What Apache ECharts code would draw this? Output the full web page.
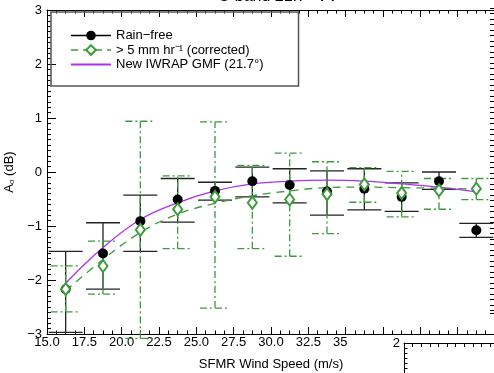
<!DOCTYPE html>
<html><head><meta charset="utf-8">
<script src="https://cdn.jsdelivr.net/npm/echarts@6/dist/echarts.min.js"></script>
<style>html,body{margin:0;padding:0;background:#fff}#c{width:494px;height:373px}</style>
</head><body><div id="c"></div>
<script>
// ---- data ----
const windSpeed     = [16.25, 18.75, 21.25, 23.75, 26.25, 28.75, 31.25, 33.75, 36.25, 38.75, 41.25, 43.75];
const rainFree      = [-2.17, -1.51, -0.91, -0.51, -0.35, -0.17, -0.24, -0.36, -0.31, -0.46, -0.17, -1.08];
const rainFreeLow   = [-2.97, -2.17, -1.47, -0.93, -0.52, -0.46, -0.57, -0.80, -0.70, -0.73, -0.32, -1.21];
const rainFreeHigh  = [-1.47, -0.94, -0.43, -0.12, -0.19,  0.09,  0.06,  0.02,  0.06, -0.20,  0.00, -0.95];
const rain5         = [-2.17, -1.74, -1.07, -0.69, -0.46, -0.57, -0.51, -0.41, -0.23, -0.39, -0.34, -0.31];
const rain5Low      = [-2.59, -2.26, -3.08, -1.42, -2.52, -1.42, -1.56, -1.14, -0.56, -0.83, -0.69, -0.51];
const rain5High     = [-1.74, -1.28,  0.94, -0.07,  0.93,  0.12,  0.35,  0.19,  0.08,  0.01, -0.12, -0.12];
const rain5Fit      = [-2.20, -1.62, -1.12, -0.78, -0.58, -0.44, -0.35, -0.29, -0.28, -0.29, -0.30, -0.32];
const gmfCurve      = [-2.06, -1.40, -0.88, -0.57, -0.35, -0.22, -0.17, -0.15, -0.17, -0.22, -0.28, -0.37];
const xTicks = {min: 15, max: 45, step: 2.5};
const yTicks = {min: -3, max: 3, step: 1};
const titleText = 'C-band 21.7° VV';
const nameRain = 'Rain\u2212free';
const nameRain5 = '> 5 mm hr\u207B\u00B9 (corrected)';
const nameGmf = 'New IWRAP GMF (21.7°)';

const FONT = 'Liberation Sans, Arial, Helvetica, sans-serif';
const GREEN = '#3c9b3c';
const PURPLE = '#aa33ee';

const zip = (xs, ys) => xs.map((x, i) => [x, ys[i]]);
const zip3 = (xs, a, b) => xs.map((x, i) => [x, a[i], b[i]]);

function errBar(capHalf, color, dash, width) {
  return function (params, api) {
    const x = api.value(0), lo = api.value(1), hi = api.value(2);
    const pLo = api.coord([x, lo]), pHi = api.coord([x, hi]);
    const st = {stroke: color, lineWidth: width, lineDash: dash, fill: null};
    return {type: 'group', children: [
      {type: 'line', shape: {x1: pLo[0], y1: pLo[1], x2: pHi[0], y2: pHi[1]}, style: st},
      {type: 'line', shape: {x1: pLo[0] - capHalf, y1: pLo[1], x2: pLo[0] + capHalf, y2: pLo[1]}, style: st},
      {type: 'line', shape: {x1: pHi[0] - capHalf, y1: pHi[1], x2: pHi[0] + capHalf, y2: pHi[1]}, style: st}
    ]};
  };
}

const chart = echarts.init(document.getElementById('c'), null, {renderer: 'canvas'});
const axLine = {show: true, onZero: false, lineStyle: {color: '#000', width: 1}};
chart.setOption({
  animation: false,
  backgroundColor: '#fff',
  textStyle: {fontFamily: FONT},
  title: {text: titleText, left: 273, top: -16, textAlign: 'center',
          textStyle: {fontSize: 16, fontWeight: 'normal', color: '#000', fontFamily: FONT}},
  legend: {
    orient: 'vertical', left: 51, top: 12, itemWidth: 40, itemHeight: 12, itemGap: 1.5,
    itemTextGap: 18, padding: [17, 35, 15, 19], borderColor: '#555', borderWidth: 1.5,
    textStyle: {fontSize: 13, color: '#000', fontFamily: FONT},
    data: [
      {name: nameRain, lineStyle: {opacity: 1, color: '#000', width: 1.5, type: 'solid'}},
      {name: nameRain5, lineStyle: {opacity: 1, color: GREEN, width: 1.5, type: [7, 5]}},
      {name: nameGmf, itemStyle: {opacity: 0}}
    ]
  },
  grid: [
    {left: 47, top: 10, width: 448, height: 324, outerBoundsMode: 'none', containLabel: false},
    {left: 490, top: 8, width: 20, height: 305, outerBoundsMode: 'none', containLabel: false},
    {left: 404, top: 343, width: 200, height: 100, outerBoundsMode: 'none', containLabel: false}
  ],
  graphic: [
    {type: 'rect', zlevel: 1, z: 1, shape: {x: 347, y: 335, width: 147, height: 38}, style: {fill: '#fff'}}
  ],
  xAxis: [
    {gridIndex: 0, type: 'value', position: 'bottom', min: xTicks.min, max: xTicks.max, interval: xTicks.step,
     axisLine: axLine, splitLine: {show: false},
     axisTick: {inside: true, length: 7, lineStyle: {color: '#000'}},
     minorTick: {show: true, splitNumber: 4, length: 3.5, lineStyle: {color: '#000'}},
     axisLabel: {fontSize: 13, color: '#000', margin: 2, fontFamily: FONT, formatter: v => v.toFixed(1)},
     name: 'SFMR Wind Speed (m/s)', nameLocation: 'middle', nameGap: 24,
     nameTextStyle: {fontSize: 13, color: '#000', fontFamily: FONT}},
    {gridIndex: 0, type: 'value', position: 'top', min: xTicks.min, max: xTicks.max, interval: xTicks.step,
     axisLine: axLine, splitLine: {show: false}, axisLabel: {show: false},
     axisTick: {inside: true, length: 7, lineStyle: {color: '#000'}},
     minorTick: {show: true, splitNumber: 4, length: 3.5, lineStyle: {color: '#000'}}},
    {gridIndex: 1, type: 'value', show: false, min: 0, max: 1},
    {gridIndex: 2, type: 'value', position: 'top', min: 0, max: 23.25, interval: 1, zlevel: 2,
     axisLine: axLine, splitLine: {show: false}, axisLabel: {show: false},
     axisTick: {inside: true, length: 4, lineStyle: {color: '#000'}}}
  ],
  yAxis: [
    {gridIndex: 0, type: 'value', min: yTicks.min, max: yTicks.max, interval: yTicks.step,
     axisLine: axLine, splitLine: {show: false},
     axisTick: {inside: true, length: 9, lineStyle: {color: '#000'}},
     minorTick: {show: true, splitNumber: 10, length: 4, lineStyle: {color: '#000'}},
     axisLabel: {fontSize: 13, color: '#000', margin: 5, fontFamily: FONT,
                 formatter: v => String(v).replace('-', '\u2212')},
     name: '{a|A}{s|o} (dB)', nameLocation: 'middle', nameGap: 30,
     nameTextStyle: {fontSize: 13, color: '#000', fontFamily: FONT,
       rich: {a: {fontSize: 13, fontFamily: FONT}, s: {fontSize: 8, fontFamily: FONT, padding: [6, 0, 0, 0]}}}},
    {gridIndex: 1, type: 'value', inverse: true, min: 0, max: 2.7727, interval: 0.5,
     axisLine: {show: false, onZero: false}, splitLine: {show: false}, axisLabel: {show: false},
     axisTick: {show: true, inside: true, length: 8, lineStyle: {color: '#000'}},
     minorTick: {show: true, splitNumber: 10, length: 4, lineStyle: {color: '#000'}}},
    {gridIndex: 2, type: 'value', min: 0, max: 2, interval: 1, zlevel: 2,
     axisLine: axLine, splitLine: {show: false},
     axisTick: {inside: true, length: 7, lineStyle: {color: '#000'}},
     minorTick: {show: true, splitNumber: 10, length: 3.5, lineStyle: {color: '#000'}},
     axisLabel: {fontSize: 13, color: '#000', margin: 4, fontFamily: FONT, formatter: v => v === 2 ? '2' : ''}}
  ],
  series: [
    {type: 'custom', name: 'rainFreeErr', xAxisIndex: 0, yAxisIndex: 0, clip: false, silent: true,
     renderItem: errBar(17, '#222', null, 1.3), encode: {x: 0, y: [1, 2]},
     data: zip3(windSpeed, rainFreeLow, rainFreeHigh)},
    {type: 'line', name: nameRain, xAxisIndex: 0, yAxisIndex: 0, data: zip(windSpeed, rainFree),
     symbol: 'circle', symbolSize: 10, itemStyle: {color: '#000'}, lineStyle: {opacity: 0, color: '#000'}},
    {type: 'custom', name: 'rain5Err', xAxisIndex: 0, yAxisIndex: 0, clip: false, silent: true,
     renderItem: errBar(15, GREEN, [7, 3, 2, 3], 1.3), encode: {x: 0, y: [1, 2]},
     data: zip3(windSpeed, rain5Low, rain5High)},
    {type: 'line', name: 'rain5Fit', xAxisIndex: 0, yAxisIndex: 0, data: zip(windSpeed, rain5Fit),
     smooth: 0.4, symbol: 'none', lineStyle: {color: GREEN, width: 1.3, type: [8, 6]}},
    {type: 'line', name: nameRain5, xAxisIndex: 0, yAxisIndex: 0, data: zip(windSpeed, rain5),
     symbol: 'emptyDiamond', symbolSize: [9, 12], itemStyle: {color: GREEN, borderWidth: 1.5},
     lineStyle: {opacity: 0, color: GREEN}},
    {type: 'line', name: nameGmf, xAxisIndex: 0, yAxisIndex: 0, data: zip(windSpeed, gmfCurve),
     smooth: 0.4, symbol: 'none', lineStyle: {color: PURPLE, width: 1.3}, itemStyle: {color: PURPLE}}
  ]
});
</script>
</body></html>
